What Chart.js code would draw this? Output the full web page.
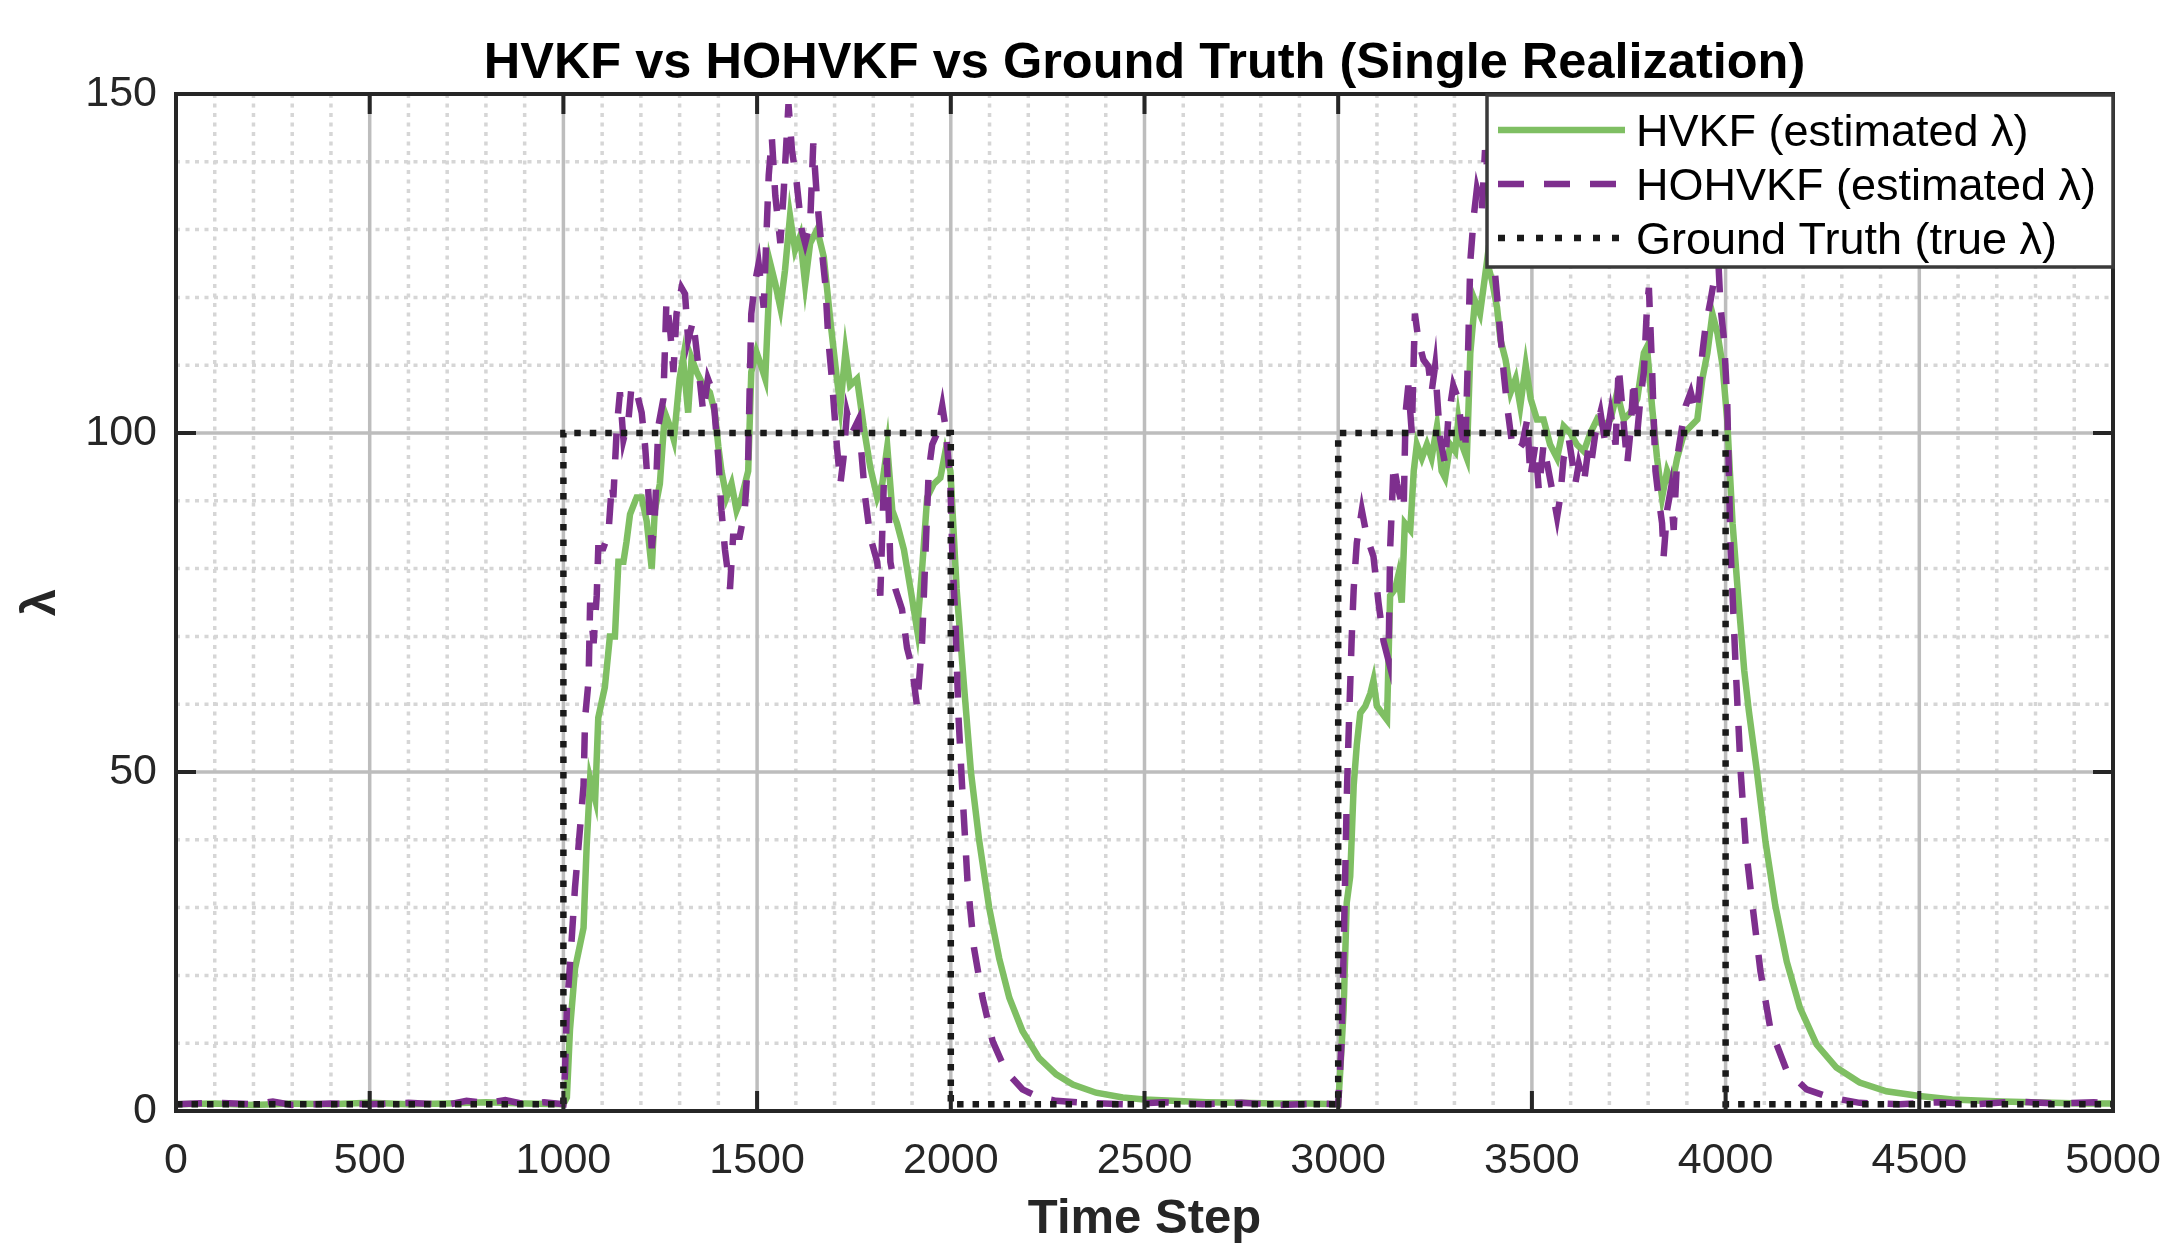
<!DOCTYPE html>
<html>
<head>
<meta charset="utf-8">
<script src="https://cdn.jsdelivr.net/npm/chart.js@4.4.1/dist/chart.umd.min.js"></script>
<style>
  html, body { margin: 0; padding: 0; background: #ffffff; overflow: hidden; }
  #c { display: block; }
</style>
</head>
<body>
<canvas id="c" width="2169" height="1251" style="width:2169px;height:1251px;"></canvas>
<script>
// ---------------- data ----------------
const chartTitle = 'HVKF vs HOHVKF vs Ground Truth (Single Realization)';
const xLabel = 'Time Step';
const yLabel = 'λ';
const seriesNames = ['HVKF (estimated λ)', 'HOHVKF (estimated λ)', 'Ground Truth (true λ)'];
const xTicks = [0, 500, 1000, 1500, 2000, 2500, 3000, 3500, 4000, 4500, 5000];
const yTicks = [0, 50, 100, 150];

const hvkfSteps = [0,100,200,300,400,500,600,700,800,900,1000,
  1009,1017,1030,1052,1060,1069,1082,1090,1107,1120,1133,1142,1155,1163,1172,1189,1202,1215,1228,1236,1249,1262,1275,1285,1300,1309,1322,1331,1344,1361,1378,1391,1400,1408,1421,1434,1447,1460,1477,1485,1498,1510,1521,1534,1547,1560,1572,1585,1598,1611,1624,1637,1655,1672,1689,1706,1715,1728,1740,1758,1775,1792,1810,1823,1836,1849,1861,1879,1896,1913,1926,1939,1956,1973,1986,1999,
  2005,2015,2033,2052,2073,2099,2125,2151,2185,2228,2272,2315,2375,2444,2500,2573,2659,2750,2832,2920,3000,
  3005,3014,3022,3031,3040,3048,3057,3070,3083,3091,3100,3113,3126,3134,3147,3155,3164,3172,3186,3195,3203,3216,3229,3241,3255,3267,3276,3289,3302,3310,3319,3332,3341,3353,3366,3375,3384,3397,3410,3419,3432,3445,3458,3470,3484,3497,3513,3530,3547,3565,3582,3599,3616,3634,3651,3668,3685,3703,3720,3737,3754,3772,3789,3797,3810,3823,3836,3849,3862,3875,3893,3910,3927,3940,3953,3966,3979,3992,4004,
  4018,4031,4038,4048,4060,4081,4103,4128,4158,4192,4235,4286,4346,4415,4500,4585,4714,4842,4920,5000];
const hvkfValues = [1.0,1.1,0.9,1.1,1.0,1.2,1.0,1.1,1.3,1.1,1.0,
  2,12,21,27,39,49,46,58,62.5,70,70,81,81,84,88,90.5,90.5,87,80,88.6,92.5,103,101,99,108,111,103,111,109,107,106,103,98,94.4,90.5,92.5,88.6,90.5,94.4,109,112,110,108,125,122,118.5,124,132,127,129,122,128,130,126,116.6,108,104,112,107,108,101,95,90.5,92.5,98,88.6,86.7,82.8,77,71,80,90.5,92.5,93.4,97.3,94.4,
  88,77,63.5,50,40,30,22.5,16.7,11.8,7.8,5.4,3.9,2.7,2.0,1.7,1.5,1.3,1.2,1.1,1.1,1.0,
  5.6,15,30.7,34.6,48,54,58.7,59.7,61.6,63.5,59.7,58.7,57.7,76,77,79,75,86.7,85.7,94.4,98.3,96.3,98.3,96.3,101,94.4,93.4,98.3,97.3,102,98.3,96.3,111.8,119.5,117.6,121.4,125.3,122.5,118.5,113.7,110.8,106,108,104,110,105,102,102,98.3,96.3,101,100,98.3,97.3,100,102,101,102,106,102,103,105,111.8,112.7,104,96.3,90.5,94.4,92.5,96.3,100,101,102,108,111.8,117.6,114.7,110,102,
  86.7,77,72,65,59,50,39.7,30.4,22,15.2,9.8,6.4,4.2,2.9,2.2,1.7,1.4,1.2,1.1,1.1];

const hohvkfSteps = [0,100,200,250,300,400,500,600,700,750,800,850,900,950,1000,
  1004,1009,1021,1030,1039,1052,1056,1065,1069,1078,1086,1090,1103,1116,1125,1129,1138,1146,1155,1168,1176,1189,1202,1211,1219,1228,1236,1245,1258,1266,1275,1284,1292,1305,1314,1322,1335,1348,1361,1373,1386,1400,1408,1417,1430,1438,1455,1468,1477,1485,1494,1504,1517,1530,1538,1547,1560,1568,1581,1590,1602,1615,1624,1637,1645,1654,1667,1676,1684,1693,1706,1715,1723,1732,1745,1762,1779,1792,1810,1818,1827,1835,1844,1857,1874,1887,1900,1913,1926,1935,1943,1952,1965,1978,1986,1999,
  2004,2012,2020,2030,2043,2060,2082,2108,2142,2185,2228,2272,2350,2450,2550,2650,2750,2850,2950,3000,
  3009,3018,3022,3026,3035,3040,3048,3061,3074,3091,3104,3117,3130,3134,3143,3152,3160,3169,3174,3181,3190,3198,3207,3220,3233,3241,3250,3263,3276,3284,3297,3310,3319,3328,3336,3341,3350,3358,3371,3379,3388,3401,3414,3427,3436,3449,3462,3475,3488,3496,3509,3518,3530,3543,3556,3565,3573,3582,3595,3603,3612,3621,3634,3647,3655,3664,3677,3690,3703,3716,3724,3733,3746,3754,3763,3772,3780,3789,3797,3802,3810,3819,3827,3836,3840,3849,3858,3866,3875,3888,3897,3910,3923,3931,3940,3948,3961,3970,3979,3987,3996,4004,
  4013,4026,4039,4052,4068,4090,4115,4158,4209,4269,4346,4450,4550,4650,4750,4850,4950,5000];
const hohvkfValues = [1.0,1.2,1.0,1.4,0.9,1.1,1.0,1.2,0.9,1.5,1.2,1.6,1.0,1.3,1.0,
  5.6,15,25,33,39,48,58,63.5,75,69,76,83,83,85,92.5,90.5,101,106,99,102,107,106,103,98,91.5,83,87.6,101,105,119.5,115.6,109,117.6,121.4,120.5,113.7,116.6,110,103,108,106,96.3,88.6,82.8,77,84.7,84.7,88.6,96.3,117.6,122,125,118.5,138,143.6,135,128,135,148.5,141.7,137,130,128,131,142.7,135,127,122,113.7,108,98,92.5,96.3,103,100,102,90.5,84.7,81,76,92.5,96.3,81,77,74,68.3,65.4,59.6,69.3,82.8,94.4,98.3,100,104,101,92.5,
  82,72,58,47,34,24,16.7,10.3,5.9,3.2,2.0,1.5,1.2,1.0,1.3,1.0,1.2,0.9,1.1,1.0,
  10.4,34.6,46,54,70,77,83.8,88.6,84.7,81.8,75,69.3,66.4,82.8,95.4,92.5,90.5,88.6,103,107,100,117.6,113.7,110.8,109.8,106,109.8,99.2,95.4,102,107,105,100,97.3,113.7,125.3,132,136,133,141.7,137.8,126,117.6,109,104,98.3,97.3,98.3,102,93.4,98.3,91.5,98.3,94.4,90.5,87.6,90.5,96.3,99.2,96.3,92.5,95.4,92.5,98.3,96.3,100,103,98.3,103,98.3,109.8,104,95.4,100,108,100,105,109,118.5,121.4,109.8,94.4,90.5,86.7,81.8,88.6,91.5,85.7,96.3,101,104,106,103,106,111.8,115.6,119.5,122.5,128,118.5,113.7,105,
  82.8,65.4,50,39,31,20.6,12.3,5.9,3.2,2.0,1.2,1.0,1.3,1.0,1.4,1.1,1.3,1.0];

const truthSteps  = [0, 1000, 1000, 2000, 2000, 3000, 3000, 4000, 4000, 5000];
const truthValues = [1, 1, 100, 100, 1, 1, 100, 100, 1, 1];

// ---------------- styles ----------------
const FONT = "'Liberation Sans', Arial, Helvetica, sans-serif";
const GREEN = '#7fbf63';
const PURPLE = '#7e2f8e';
const BLACK = '#1a1a1a';
const AXIS = '#262626';

const toXY = (xs, ys) => xs.map((x, i) => ({ x: x, y: ys[i] }));

const gridBoxPlugin = {
  id: 'gridBox',
  beforeDraw(chart) {
    const ctx = chart.ctx;
    ctx.save();
    ctx.fillStyle = '#ffffff';
    ctx.fillRect(0, 0, chart.width, chart.height);
    ctx.restore();
  },
  beforeDatasetsDraw(chart) {
    const { ctx, chartArea: a, scales } = chart;
    const xs = scales.x, ys = scales.y;
    ctx.save();
    ctx.strokeStyle = '#d6d6d6';
    ctx.lineWidth = 3.5;
    ctx.setLineDash([4, 5.5]);
    for (let v = 100; v < 5000; v += 100) {
      if (v % 500 === 0) continue;
      const px = xs.getPixelForValue(v);
      ctx.beginPath(); ctx.moveTo(px, a.top); ctx.lineTo(px, a.bottom); ctx.stroke();
    }
    for (let v = 10; v < 150; v += 10) {
      if (v % 50 === 0) continue;
      const py = ys.getPixelForValue(v);
      ctx.beginPath(); ctx.moveTo(a.left, py); ctx.lineTo(a.right, py); ctx.stroke();
    }
    ctx.setLineDash([]);
    ctx.strokeStyle = '#bdbdbd';
    ctx.lineWidth = 3.5;
    xTicks.forEach(v => {
      const px = xs.getPixelForValue(v);
      ctx.beginPath(); ctx.moveTo(px, a.top); ctx.lineTo(px, a.bottom); ctx.stroke();
    });
    yTicks.forEach(v => {
      const py = ys.getPixelForValue(v);
      ctx.beginPath(); ctx.moveTo(a.left, py); ctx.lineTo(a.right, py); ctx.stroke();
    });
    ctx.restore();
  },
  afterDatasetsDraw(chart) {
    const { ctx, chartArea: a, scales } = chart;
    const xs = scales.x, ys = scales.y;
    ctx.save();
    ctx.strokeStyle = AXIS;
    ctx.lineWidth = 4;
    ctx.setLineDash([]);
    const tl = 20;
    xTicks.forEach(v => {
      const px = xs.getPixelForValue(v);
      ctx.beginPath();
      ctx.moveTo(px, a.bottom); ctx.lineTo(px, a.bottom - tl);
      ctx.moveTo(px, a.top); ctx.lineTo(px, a.top + tl);
      ctx.stroke();
    });
    yTicks.forEach(v => {
      const py = ys.getPixelForValue(v);
      ctx.beginPath();
      ctx.moveTo(a.left, py); ctx.lineTo(a.left + tl, py);
      ctx.moveTo(a.right, py); ctx.lineTo(a.right - tl, py);
      ctx.stroke();
    });
    ctx.strokeRect(a.left, a.top, a.right - a.left, a.bottom - a.top);
    ctx.restore();
  },
  afterDraw(chart) {
    const { ctx, chartArea: a } = chart;
    ctx.save();
    ctx.fillStyle = '#000000';
    ctx.font = 'bold 50.5px ' + FONT;
    ctx.textAlign = 'center';
    ctx.textBaseline = 'alphabetic';
    ctx.fillText(chartTitle, (a.left + a.right) / 2, 78);
    const bx = 1487, by = a.top + 1, bw = a.right - 1487, bh = 172;
    ctx.fillStyle = '#ffffff';
    ctx.fillRect(bx, by, bw, bh);
    ctx.strokeStyle = '#3a3a3a';
    ctx.lineWidth = 3.5;
    ctx.strokeRect(bx, by, bw, bh);
    const legendDash = [[], [26, 20], [7, 12]];
    const rows = [by + 35, by + 89, by + 143];
    chart.data.datasets.forEach((ds, i) => {
      ctx.strokeStyle = ds.borderColor;
      ctx.lineWidth = ds.borderWidth;
      ctx.setLineDash(legendDash[i]);
      ctx.lineCap = 'butt';
      ctx.beginPath();
      ctx.moveTo(bx + 11, rows[i]);
      ctx.lineTo(bx + 138, rows[i]);
      ctx.stroke();
      ctx.setLineDash([]);
      ctx.fillStyle = '#000000';
      ctx.font = '45px ' + FONT;
      ctx.textAlign = 'left';
      ctx.textBaseline = 'middle';
      ctx.fillText(ds.label, bx + 149, rows[i] + 4);
    });
    ctx.restore();
  }
};

new Chart(document.getElementById('c'), {
  type: 'line',
  data: {
    datasets: [
      { label: seriesNames[0], data: toXY(hvkfSteps, hvkfValues), borderColor: GREEN, borderWidth: 6.5,
        pointRadius: 0, tension: 0, fill: false, order: 3 },
      { label: seriesNames[1], data: toXY(hohvkfSteps, hohvkfValues), borderColor: PURPLE, borderWidth: 6.5,
        borderDash: [26, 20], pointRadius: 0, tension: 0, fill: false, order: 2 },
      { label: seriesNames[2], data: toXY(truthSteps, truthValues), borderColor: BLACK, borderWidth: 6.5,
        borderDash: [6.5, 9], pointRadius: 0, tension: 0, fill: false, order: 1 }
    ]
  },
  options: {
    responsive: false,
    maintainAspectRatio: false,
    devicePixelRatio: 1,
    animation: false,
    events: [],
    layout: { padding: { top: 94, right: 56, left: 0, bottom: 0 } },
    plugins: {
      legend: { display: false },
      tooltip: { enabled: false },
      title: { display: false }
    },
    scales: {
      x: {
        type: 'linear', min: 0, max: 5000,
        afterBuildTicks(scale) { scale.ticks = xTicks.map(v => ({ value: v })); },
        afterFit(scale) { scale.height = 140; scale.paddingLeft = 0; scale.paddingRight = 0; },
        ticks: { color: AXIS, font: { family: FONT, size: 43 }, padding: 24, maxRotation: 0, autoSkip: false,
                 callback: v => String(v) },
        grid: { display: false, drawTicks: false },
        border: { display: false },
        title: { display: true, text: xLabel, color: AXIS, font: { family: FONT, size: 49, weight: 'bold' },
                 padding: { top: 0, bottom: 2 } }
      },
      y: {
        type: 'linear', min: 0, max: 150,
        afterBuildTicks(scale) { scale.ticks = yTicks.map(v => ({ value: v })); },
        afterFit(scale) { scale.width = 176; scale.paddingTop = 0; scale.paddingBottom = 0; },
        ticks: { color: AXIS, font: { family: FONT, size: 43 }, padding: 19, autoSkip: false,
                 callback: v => String(v) },
        grid: { display: false, drawTicks: false },
        border: { display: false },
        title: { display: true, text: yLabel, color: AXIS, font: { family: FONT, size: 49, weight: 'bold' },
                 padding: { top: 12, bottom: 0 } }
      }
    }
  },
  plugins: [gridBoxPlugin]
});
</script>
</body>
</html>
